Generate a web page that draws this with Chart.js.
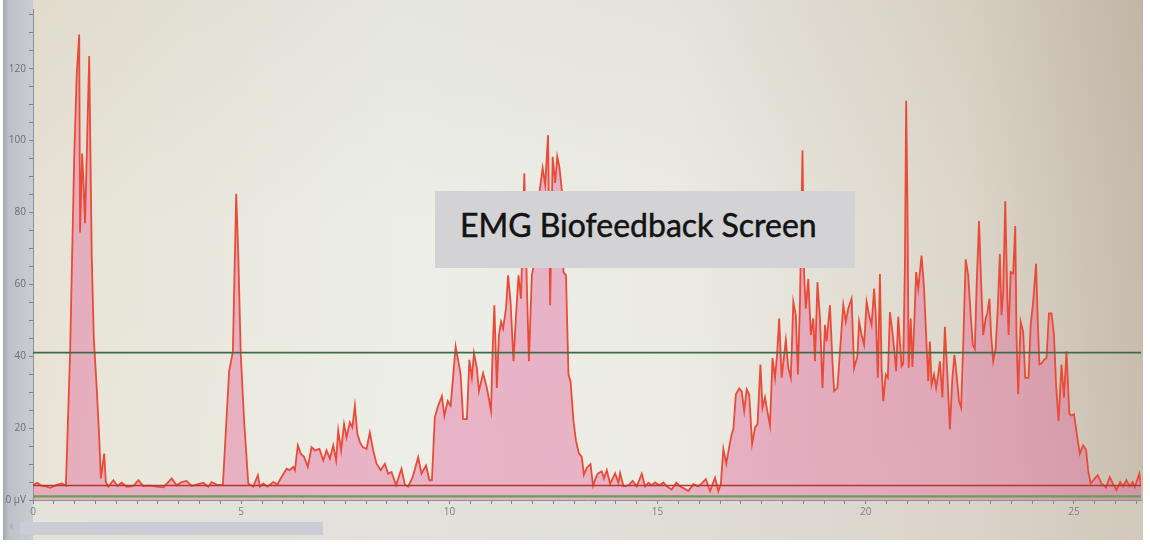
<!DOCTYPE html>
<html><head><meta charset="utf-8">
<script src="https://cdn.jsdelivr.net/npm/chart.js@4.4.1/dist/chart.umd.min.js"></script>
<style>
html,body{margin:0;padding:0;background:#fff;}
#wrap{position:relative;width:1150px;height:548px;overflow:hidden;background:#fff;}
#screen{position:absolute;left:3px;top:0;width:1140px;height:540px;background:#e2ded6;}
#plotbg{position:absolute;left:33px;top:0;width:1110px;height:500px;background:linear-gradient(90deg,#e7e2d5 0%,#eceee7 33%,#ebebe4 58%,#ddd6ca 84%,#c6baab 100%);}
#plotshade{position:absolute;left:33px;top:0;width:1110px;height:500px;background:linear-gradient(180deg,rgba(120,100,80,0.06) 0%,rgba(255,255,255,0) 45%,rgba(255,250,240,0.06) 100%);}
#leftbg{position:absolute;left:3px;top:0;width:30px;height:540px;background:linear-gradient(90deg,#a3a8af 0,#bec2c8 6px,#c9ccd0 100%);}
#bottombg{position:absolute;left:33px;top:500px;width:1110px;height:40px;background:linear-gradient(90deg,#e5e2dc 0%,#e2e0da 50%,#dad3c9 85%,#d2c8bb 100%);}
#scroll{position:absolute;left:20px;top:522px;width:303px;height:13px;background:#cacdd5;}
#lt{position:absolute;left:9px;top:519px;font:12px 'DejaVu Sans';color:#9ea3ab;}
canvas{position:absolute;left:0;top:0;}
#title{position:absolute;left:435px;top:191px;width:420px;height:77px;background:#d3d3d5;}
#title span{position:absolute;left:25px;top:14px;font:400 32px 'Lato';color:#131313;white-space:nowrap;-webkit-text-stroke:0.5px #131313;}
</style>
</head><body>
<div id="wrap">
  <div id="screen"></div>
  <div id="plotbg"></div>
  <div id="plotshade"></div>
  <div id="leftbg"></div>
  <div id="bottombg"></div>
  <div id="scroll"></div>
  <div id="lt">‹</div>
  <canvas id="c" width="1150" height="548"></canvas>
  <div id="title"><span>EMG Biofeedback Screen</span></div>
</div>
<script>
// EMG trace: [time (s), amplitude (µV)]
const emgTrace = [
 [0.00,4.2],[0.10,4.8],[0.21,3.9],[0.31,3.8],[0.41,3.4],[0.57,4.2],[0.69,4.6],[0.79,4.0],
 [0.89,40.4],[0.99,95.5],[1.05,118.5],[1.11,129.5],[1.13,74.4],[1.18,96.4],[1.21,89],[1.25,77],
 [1.35,123.5],[1.41,68],[1.46,45],[1.53,31.2],[1.59,17.4],[1.63,6],[1.71,12.9],[1.75,5],
 [1.81,3.7],[1.93,5.5],[2.03,3.9],[2.13,4.8],[2.25,3.7],[2.41,3.9],[2.53,5.5],[2.65,3.9],
 [2.81,4.0],[2.97,3.7],[3.13,3.5],[3.33,6.0],[3.45,4.1],[3.57,5.0],[3.69,5.3],[3.81,3.9],
 [3.97,4.4],[4.09,4.8],[4.21,3.7],[4.29,5.0],[4.41,4.3],[4.56,4.1],
 [4.71,35.8],[4.80,41.3],[4.88,85.2],[4.93,68],[4.99,40.4],[5.07,22],[5.17,4.6],[5.29,3.7],
 [5.40,6.9],[5.45,3.7],[5.53,4.6],[5.63,3.7],[5.77,5.0],[5.87,4.4],[5.97,6.4],[6.09,8.7],
 [6.16,8.3],[6.25,9.2],[6.29,8.3],[6.36,15.2],[6.43,12.9],[6.51,12.0],[6.60,9.2],[6.69,14.7],
 [6.77,13.8],[6.88,14.2],[6.97,11.0],[7.05,13.8],[7.13,11.5],[7.21,15.2],[7.28,11.0],[7.33,19.3],
 [7.40,13.8],[7.47,21.1],[7.53,17.4],[7.61,21.6],[7.67,20.2],[7.73,26.2],[7.79,18.4],[7.85,16.1],
 [7.92,14.7],[8.01,14.2],[8.09,18.8],[8.17,13.8],[8.25,10.1],[8.35,8.3],[8.45,10.1],[8.53,7.3],
 [8.61,7.8],[8.72,4.1],[8.85,8.7],[8.93,4.3],[9.01,3.7],[9.12,6.4],[9.25,11.9],[9.33,7.3],
 [9.44,9.6],[9.52,5.5],[9.58,5.5],
 [9.65,23],[9.73,26.2],[9.82,28.9],[9.88,23.4],[9.96,27.5],[10.03,26.2],[10.08,33],[10.15,42.7],
 [10.21,39],[10.27,34.9],[10.33,22.5],[10.42,22.5],[10.48,39],[10.54,34],[10.59,40.9],[10.66,36.7],
 [10.71,30.3],[10.81,35.3],[10.90,31.2],[11.00,24.8],[11.04,42.2],[11.08,54.2],[11.14,31.2],[11.19,45.9],
 [11.24,49.6],[11.29,47.7],[11.36,53.3],[11.41,62.5],[11.47,55],[11.54,38.6],[11.60,51.4],[11.66,62.5],
 [11.72,56],[11.80,90.9],[11.86,60],[11.91,38.6],[11.98,62.5],[12.04,66],[12.10,75],[12.16,85.4],
 [12.24,92.3],[12.30,87.7],[12.37,101.5],[12.42,54.2],[12.48,95.5],[12.54,88.2],[12.59,95.5],[12.64,92.8],
 [12.70,86.3],[12.74,63.4],[12.80,62.5],[12.86,34.9],[12.91,33],[12.98,22],[13.04,16.5],[13.11,13],
 [13.18,12],[13.23,7],[13.30,9],[13.39,10],[13.45,4],[13.54,6.9],[13.57,7.4],[13.66,8],
 [13.71,6],[13.78,8.3],[13.86,4.5],[13.98,7.4],[14.06,4.8],[14.10,7.5],[14.18,3.8],[14.30,4.1],
 [14.40,5.3],[14.50,3.8],[14.62,7.3],[14.70,3.8],[14.78,4.8],[14.86,4.1],[14.94,4.9],[15.04,4.1],
 [15.14,4.9],[15.22,3.8],[15.34,2.9],[15.45,4.8],[15.54,3.8],[15.62,3.3],[15.74,2.5],[15.86,4.4],
 [15.98,3.8],[16.06,4.6],[16.16,5.8],[16.26,2.5],[16.38,6.2],[16.46,2.5],[16.52,4.5],
 [16.58,14.2],[16.65,10.1],[16.72,14.7],[16.78,18.4],[16.82,19.7],[16.88,29.4],[16.96,31],[17.02,30.3],
 [17.08,24.8],[17.14,30.8],[17.20,29.4],[17.27,15.6],[17.34,20.2],[17.40,21.1],[17.47,37.7],[17.52,25.7],
 [17.58,28.5],[17.62,25.7],[17.70,20.7],[17.76,39.5],[17.82,34],[17.87,40.4],[17.92,50.5],[17.98,34],
 [18.04,40.4],[18.08,44.5],[18.14,36.7],[18.20,34],[18.26,55.1],[18.32,51.4],[18.37,34.9],[18.42,55.1],
 [18.48,97.3],[18.52,62.5],[18.56,53.3],[18.62,61.5],[18.68,45.9],[18.74,50.5],[18.78,38.6],[18.84,60.6],
 [18.90,50.5],[18.96,31.2],[19.02,48.7],[19.06,44.1],[19.14,54.2],[19.20,38.6],[19.24,30.3],[19.32,31.2],
 [19.38,41.3],[19.46,54.2],[19.52,49.6],[19.58,53.3],[19.66,56],[19.72,36.7],[19.80,40],[19.84,49.6],
 [19.90,45.9],[19.96,43.2],[20.02,55.1],[20.08,51.4],[20.14,48.7],[20.20,58.8],[20.24,51.4],[20.29,34],
 [20.34,62.9],[20.38,36.7],[20.42,27.5],[20.48,34.9],[20.53,34],[20.58,52.3],[20.64,46.8],[20.68,42.2],
 [20.73,35.8],[20.78,51],[20.82,44],[20.86,37.2],[20.90,38],[20.94,65.2],[20.97,111.1],[21.00,83.6],
 [21.03,36.7],[21.08,50.5],[21.12,37],[21.16,47.7],[21.21,63.4],[21.26,58.8],[21.34,68],[21.40,58.8],
 [21.46,43.2],[21.50,33.1],[21.54,44.1],[21.58,32.1],[21.64,34.9],[21.69,31.2],[21.74,34.9],[21.78,38.6],
 [21.84,28.5],[21.90,48.2],[21.96,34.9],[22.02,19.7],[22.08,34],[22.13,40.4],[22.18,34.9],[22.24,27.5],
 [22.29,25.7],[22.34,43.2],[22.40,67],[22.46,62.5],[22.52,51.4],[22.57,43.2],[22.62,42],[22.66,58.8],
 [22.72,77.6],[22.77,60.6],[22.82,45.9],[22.88,50.5],[22.92,52],[22.97,56],[23.01,45.9],[23.06,38.6],
 [23.12,42.2],[23.17,53.3],[23.22,68.4],[23.26,51.4],[23.30,58],[23.35,83.1],[23.40,56],[23.43,45.9],
 [23.48,63.4],[23.54,63],[23.59,76.2],[23.62,45.9],[23.66,29.4],[23.72,49.6],[23.78,46.8],[23.83,34],
 [23.91,34],[23.96,48.7],[24.02,55.1],[24.09,65.7],[24.13,50],[24.17,37.7],[24.22,38],[24.28,39],
 [24.34,39.5],[24.40,51.9],[24.46,51.9],[24.52,45.9],[24.57,32.1],[24.63,22],[24.70,37.7],[24.76,28.5],
 [24.82,41.3],[24.89,23.9],[24.94,23.5],[25.00,23.9],[25.08,17.4],[25.14,12.9],[25.22,15.2],[25.29,14],
 [25.34,8.3],[25.40,4.6],[25.50,6],[25.57,6.9],[25.66,4.6],[25.77,3.5],[25.86,6.4],[25.94,4.5],
 [26.02,2.8],[26.11,5],[26.18,3.8],[26.26,5.5],[26.34,3.8],[26.41,5],[26.46,3.6],[26.57,7.3],[26.62,3.5]
];
const thresholdHigh = 41;   // green goal line (µV)
const thresholdLow = 4;     // red rest line (µV)
const baselineLevel = 1;    // green baseline trace (µV)
const xRange = [0, 26.61];
const yRange = [0, 136.6];
const yMajorTicks = [0, 20, 40, 60, 80, 100, 120];
const xMajorTicks = [0, 5, 10, 15, 20, 25];

const flat = v => [{x: xRange[0], y: v}, {x: xRange[1], y: v}];
const near = (a, b) => Math.abs(a - b) < 1e-6;

new Chart(document.getElementById('c'), {
  type: 'line',
  data: {
    datasets: [
      {data: flat(thresholdHigh), borderColor: '#3e6c47', borderWidth: 1.6, pointRadius: 0, fill: false},
      {data: flat(thresholdLow), borderColor: '#b3362e', borderWidth: 1.5, pointRadius: 0, fill: false},
      {data: flat(baselineLevel), borderColor: '#63a05a', borderWidth: 2.2, pointRadius: 0, fill: false},
      {data: emgTrace.map(p => ({x: p[0], y: p[1]})), borderColor: '#ea4b36', borderWidth: 1.8,
       pointRadius: 0, tension: 0, fill: 'origin', backgroundColor: 'rgba(226,92,150,0.40)'}
    ]
  },
  options: {
    responsive: false, animation: false, events: [],
    layout: {padding: {left: 0, right: 9, top: 4, bottom: 0}},
    plugins: {legend: {display: false}, tooltip: {enabled: false}},
    scales: {
      x: {
        type: 'linear', min: xRange[0], max: xRange[1],
        afterFit: s => { s.height = 48; },
        border: {display: true, color: '#8b9097', width: 1},
        grid: {drawOnChartArea: false, tickLength: 4, color: '#80858d'},
        ticks: {stepSize: 0.5, includeBounds: false, autoSkip: false, maxRotation: 0, padding: 2,
          color: '#7b8189', font: {family: 'Open Sans', size: 10},
          callback: v => xMajorTicks.some(t => near(t, v)) ? String(Math.round(v)) : ''}
      },
      y: {
        type: 'linear', min: yRange[0], max: yRange[1],
        afterFit: s => { s.width = 33; },
        border: {display: true, color: '#8b9097', width: 1},
        grid: {drawOnChartArea: false, tickLength: 4, color: '#80858d'},
        ticks: {stepSize: 5, includeBounds: false, autoSkip: false, padding: 3,
          color: '#6a7078', font: {family: 'Open Sans', size: 10},
          callback: v => yMajorTicks.some(t => near(t, v)) ? (near(v, 0) ? '0 μV' : String(Math.round(v))) : ''}
      }
    }
  }
});
</script>
</body></html>
